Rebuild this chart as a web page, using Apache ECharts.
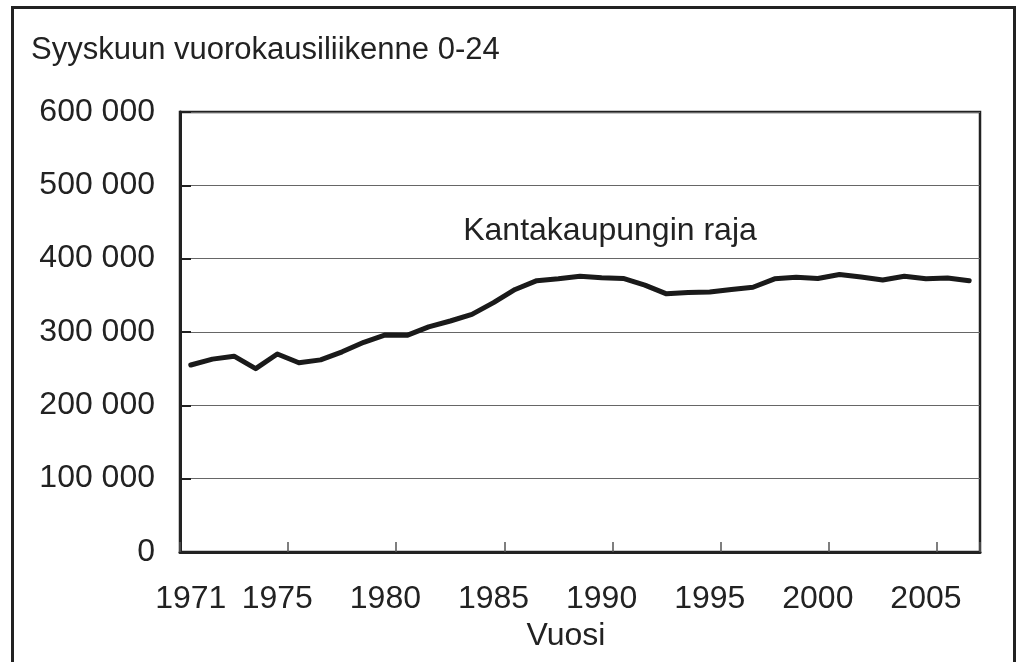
<!DOCTYPE html>
<html>
<head>
<meta charset="utf-8">
<script src="https://cdn.jsdelivr.net/npm/echarts@6/dist/echarts.min.js"></script>
<style>
  html, body { margin: 0; padding: 0; background: #fff; }
  #chart { width: 1021px; height: 662px; }
</style>
</head>
<body>
<div id="chart"></div>
<script>
var years = [];
for (var y = 1971; y <= 2007; y++) years.push(String(y));

// Kantakaupungin raja, syyskuun vuorokausiliikenne 0-24
var traffic = [
    255000, 263000, 267000, 250000, 270000, 258000, 262000, 273000, 286000, 296000,
    295500, 307000, 315000, 324000, 340000, 358000, 370000, 372500, 376000, 374000,
    373000, 364000, 352000, 354000, 354500, 358000, 361000, 372500, 374500, 373000,
    378500, 375000, 371000, 376000, 372500, 373500, 370000
];
var seriesName = 'Kantakaupungin raja';
var chartTitle = 'Syyskuun vuorokausiliikenne 0-24';
var xName = 'Vuosi';

var font = '"Liberation Sans", Arial, sans-serif';
var ink = '#222';
var fs = 32;

var myChart = echarts.init(document.getElementById('chart'));
var option = {
    animation: false,
    backgroundColor: '#fff',
    graphic: [
        {
            type: 'rect',
            shape: {x: 12.5, y: 7.5, width: 1002, height: 720},
            style: {fill: 'none', stroke: ink, lineWidth: 3},
            silent: true
        },
        {
            type: 'text',
            x: 31, y: 50,
            style: {text: chartTitle, font: '31px ' + font, fill: ink, verticalAlign: 'middle'}
        },
        {
            type: 'text',
            x: 610, y: 231,
            style: {text: seriesName, font: fs + 'px ' + font, fill: ink, align: 'center', verticalAlign: 'middle'}
        }
    ],
    grid: {
        left: 180, top: 112, right: 41, bottom: 110,
        show: true, borderColor: ink, borderWidth: 2.5
    },
    xAxis: {
        type: 'category',
        data: years,
        boundaryGap: true,
        name: xName,
        nameLocation: 'middle',
        nameGap: 63,
        nameTextStyle: {fontFamily: font, fontSize: fs, color: ink, padding: [0, 28, 0, 0]},
        axisLine: {lineStyle: {color: ink, width: 3}},
        axisTick: {
            show: true, inside: false, length: -10, alignWithLabel: false,
            lineStyle: {color: '#555', width: 1.5},
            interval: function (index) { return index % 5 === 0; }
        },
        axisLabel: {
            fontFamily: font, fontSize: fs, color: ink, margin: 31,
            interval: function (index) { return index === 0 || (index + 1) % 5 === 0; }
        },
        splitLine: {show: false}
    },
    yAxis: {
        type: 'value',
        min: 0, max: 600000, interval: 100000,
        axisLine: {show: true, lineStyle: {color: ink, width: 3}},
        axisTick: {show: true, inside: false, length: -11, lineStyle: {color: ink, width: 2}},
        axisLabel: {
            fontFamily: font, fontSize: fs, color: ink, margin: 25,
            formatter: function (v) {
                return String(v).replace(/\B(?=(\d{3})+(?!\d))/g, ' ');
            }
        },
        splitLine: {lineStyle: {color: '#666', width: 1}}
    },
    series: [{
        name: seriesName,
        type: 'line',
        data: traffic,
        symbol: 'none',
        lineStyle: {color: '#1a1a1a', width: 5, join: 'round', cap: 'round'}
    }]
};
myChart.setOption(option);
</script>
</body>
</html>
